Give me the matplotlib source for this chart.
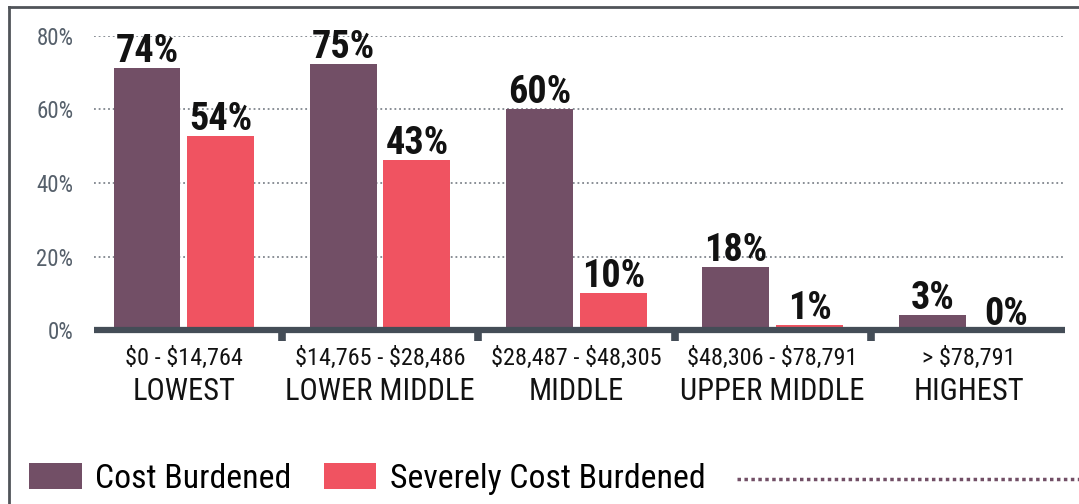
"""Cost burden by income group, grouped bar chart."""
import numpy as np
import matplotlib.pyplot as plt
from matplotlib.lines import Line2D
from matplotlib.ticker import FixedLocator

# Data (bar heights as drawn, labels as printed)
ranges = ["$0 - $14,764", "$14,765 - $28,486", "$28,487 - $48,305",
          "$48,306 - $78,791", "> $78,791"]
groups = ["LOWEST", "LOWER MIDDLE", "MIDDLE", "UPPER MIDDLE", "HIGHEST"]
cost_burdened = [71.3, 72.4, 60.2, 17.3, 4.2]
severely_burdened = [52.8, 46.3, 10.2, 1.5, 0.0]
cost_labels = ["74%", "75%", "60%", "18%", "3%"]
severe_labels = ["54%", "43%", "10%", "1%", "0%"]
y_ticks = [0, 20, 40, 60, 80]

PURPLE = "#724f66"
RED = "#f05361"
AXIS = "#444d57"
FRAME = "#505459"
NARROW = ["Roboto Condensed", "Noto Sans Condensed", "Liberation Sans Narrow",
          "DejaVu Sans Condensed", "Roboto", "DejaVu Sans"]

plt.rcParams["font.family"] = NARROW
plt.rcParams["font.stretch"] = "condensed"
plt.rcParams["text.parse_math"] = False  # keep the $ signs literal

fig = plt.figure(figsize=(10.79, 5.04), dpi=100)
ax = fig.add_axes([0.0874, 0.3444, 0.8996, 0.5847])

x = np.arange(len(groups))
w = 0.341
off = 0.1875
b1 = ax.bar(x - off, cost_burdened, w, color=PURPLE, zorder=3, label="Cost Burdened")
b2 = ax.bar(x + off, severely_burdened, w, color=RED, zorder=3, label="Severely Cost Burdened")

for bars, labels in ((b1, cost_labels), (b2, severe_labels)):
    for rect, lab in zip(bars, labels):
        ax.annotate(lab, (rect.get_x() + rect.get_width() / 2, rect.get_height()),
                    xytext=(0, 4), textcoords="offset points", ha="center", va="baseline",
                    fontsize=27.5, fontweight="bold", color="#121212", annotation_clip=False)

ax.set_xlim(-0.456, 4.489)
ax.set_ylim(0, 80)

# dotted gridlines, heavy baseline
for yv in y_ticks[1:]:
    ax.axhline(yv, color="#80868d", lw=1.3, ls=(0, (1, 1.6)), zorder=1)
ax.axhline(0, color=AXIS, lw=4.5, solid_capstyle="butt", zorder=4, clip_on=False)

for s in ax.spines.values():
    s.set_visible(False)

ax.set_yticks(y_ticks)
ax.set_yticklabels([f"{v}%" for v in y_ticks], fontsize=16.5, color="#56606b")
ax.tick_params(axis="y", length=0, pad=15)

ax.set_xticks(x)
ax.set_xticklabels([])
ax.xaxis.set_minor_locator(FixedLocator(x[:-1] + 0.5))
ax.tick_params(axis="x", which="major", length=0)
ax.tick_params(axis="x", which="minor", length=8, width=5.5, color=AXIS, direction="out")

# two-line category labels
trans = ax.get_xaxis_transform()
for xi, r, g in zip(x, ranges, groups):
    ax.text(xi, -0.1174, r, transform=trans, ha="center", va="baseline",
            fontsize=17.5, color="#121212")
    ax.text(xi, -0.2362, g, transform=trans, ha="center", va="baseline",
            fontsize=22, color="#121212")

fig.legend(handles=[b1, b2], loc="center left", bbox_to_anchor=(29.3 / 1079, 1 - 479 / 504),
           ncol=2, frameon=False, fontsize=24.3, handlelength=1.55, handleheight=0.8,
           handletextpad=0.39, columnspacing=0.98, borderpad=0, borderaxespad=0)

# dotted rule after the legend, frame on left and top
fig.add_artist(Line2D([737 / 1079, 1.0], [1 - 479 / 504] * 2, transform=fig.transFigure,
                      color=PURPLE, lw=2.5, ls=(0, (1, 1))))
fig.add_artist(Line2D([8.5 / 1079, 8.5 / 1079], [0, 1 - 6.5 / 504], transform=fig.transFigure,
                      color=FRAME, lw=2))
fig.add_artist(Line2D([8.5 / 1079, 1.0], [1 - 6.5 / 504] * 2, transform=fig.transFigure,
                      color=FRAME, lw=2))

fig.savefig("out.png", dpi=100)
